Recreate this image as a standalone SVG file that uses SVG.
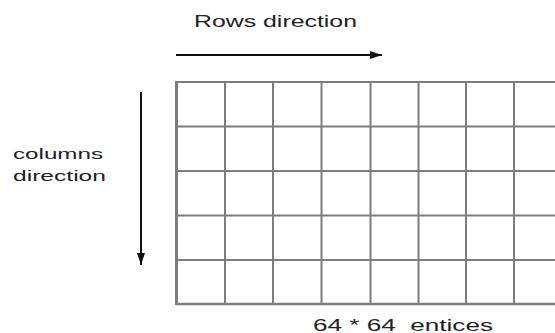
<svg xmlns="http://www.w3.org/2000/svg" width="555" height="333" viewBox="0 0 555 333">
<style>
.lbl{font-family:"Liberation Sans",Arial,sans-serif;font-size:15px;fill:#222}
.grid line{stroke:#7d7d7d;stroke-width:2}
.arrow{stroke:#111;stroke-width:2;fill:none}
</style>
<defs>
<marker id="ah" viewBox="0 0 12 8" refX="12" refY="4" markerWidth="12" markerHeight="8" markerUnits="userSpaceOnUse" orient="auto">
<path d="M0,0 L12,4 L0,8 Z" fill="#111"/>
</marker>
</defs>
<rect width="555" height="333" fill="#fff"/>
<g id="grid" class="grid">
<line x1="176" y1="82" x2="555" y2="82"/>
<line x1="176" y1="126.5" x2="555" y2="126.5"/>
<line x1="176" y1="171" x2="555" y2="171"/>
<line x1="176" y1="215.5" x2="555" y2="215.5"/>
<line x1="176" y1="260" x2="555" y2="260"/>
<line x1="176" y1="304" x2="555" y2="304" style="stroke-width:2.5"/>
<line x1="176.5" y1="81" x2="176.5" y2="305" style="stroke-width:3"/>
<line x1="225" y1="82" x2="225" y2="304"/>
<line x1="273" y1="82" x2="273" y2="304"/>
<line x1="321.5" y1="82" x2="321.5" y2="304"/>
<line x1="370.5" y1="82" x2="370.5" y2="304"/>
<line x1="418.5" y1="82" x2="418.5" y2="304"/>
<line x1="466" y1="82" x2="466" y2="304"/>
<line x1="514" y1="82" x2="514" y2="304"/>
</g>
<g id="connectors">
<line class="arrow" x1="176" y1="55" x2="382" y2="55" marker-end="url(#ah)"/>
<line class="arrow" x1="141" y1="92" x2="141" y2="265" marker-end="url(#ah)"/>
</g>
<g id="rows-label"><text class="lbl" x="194" y="27" textLength="163" lengthAdjust="spacingAndGlyphs" style="font-size:17px">Rows direction</text></g>
<g id="columns-label">
<text class="lbl" x="13" y="159" textLength="90" lengthAdjust="spacingAndGlyphs">columns</text>
<text class="lbl" x="13" y="181" textLength="93" lengthAdjust="spacingAndGlyphs">direction</text>
</g>
<g id="size-label"><text class="lbl" x="313" y="331" textLength="180" lengthAdjust="spacingAndGlyphs" style="font-size:16px" xml:space="preserve">64 * 64  entices</text></g>
</svg>
